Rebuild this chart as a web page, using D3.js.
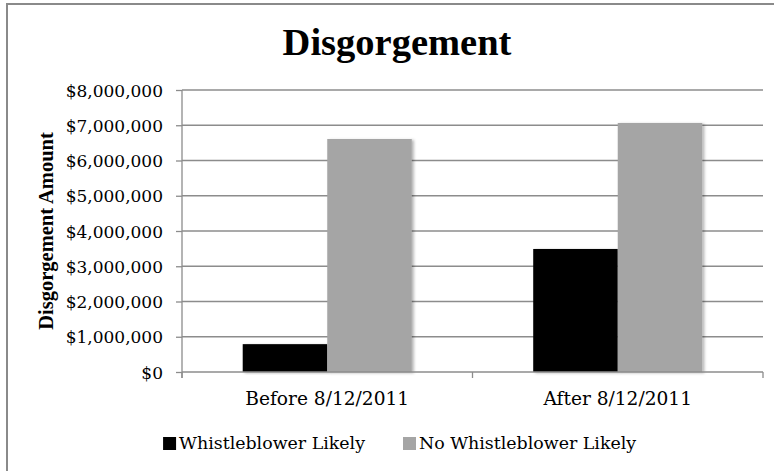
<!DOCTYPE html>
<html>
<head>
<meta charset="utf-8">
<script src="https://cdn.jsdelivr.net/npm/d3@7"></script>
<style>
  html, body { margin: 0; padding: 0; background: #fff; }
  svg { display: block; }
</style>
</head>
<body>
<svg id="chart" width="774" height="471"></svg>
<script>
// Disgorgement amounts by period, split by whistleblower likelihood
const categories = ["Before 8/12/2011", "After 8/12/2011"];
const seriesNames = ["Whistleblower Likely", "No Whistleblower Likely"];
const whistleblowerLikely = [790000, 3490000];
const noWhistleblowerLikely = [6610000, 7065000];
const yTicks = [0, 1000000, 2000000, 3000000, 4000000, 5000000, 6000000, 7000000, 8000000];
const seriesColors = ["#000000", "#a5a5a5"];

const svg = d3.select("#chart");
const serif = "'DejaVu Serif', serif";
const boldSerif = "'Liberation Serif', 'Times New Roman', serif";
const gridColor = "#8c8c8c";

const plot = { left: 182, right: 763, top: 90, bottom: 372 };

const rows = categories.map((c, i) => ({
  category: c,
  values: [whistleblowerLikely[i], noWhistleblowerLikely[i]]
}));

// Outer frame (left and top edges fall inside the canvas)
svg.append("rect")
  .attr("x", 7).attr("y", 4)
  .attr("width", 800).attr("height", 500)
  .attr("fill", "none").attr("stroke", "#8a8a8a").attr("stroke-width", 2);

// Scales
const y = d3.scaleLinear().domain([0, 8000000]).range([plot.bottom, plot.top]);
const x0 = d3.scaleBand().domain(categories)
  .range([plot.left, plot.right])
  .paddingInner(0.418).paddingOuter(0.209);
const x1 = d3.scaleBand().domain(d3.range(seriesNames.length))
  .range([0, x0.bandwidth()]);

// Shadow filter for bars
const defs = svg.append("defs");
const f = defs.append("filter").attr("id", "barShadow")
  .attr("x", "-10%").attr("y", "-5%").attr("width", "130%").attr("height", "115%");
f.append("feDropShadow").attr("dx", 2).attr("dy", 1)
  .attr("stdDeviation", 1.4).attr("flood-color", "#000").attr("flood-opacity", 0.3);

// Gridlines
svg.append("g").selectAll("line")
  .data(yTicks.filter(t => t > 0))
  .join("line")
  .attr("x1", plot.left).attr("x2", plot.right)
  .attr("y1", d => y(d)).attr("y2", d => y(d))
  .attr("stroke", gridColor).attr("stroke-width", 1.3);

// Y axis ticks and labels
const yAxis = svg.append("g")
  .attr("transform", `translate(${plot.left},0)`)
  .call(d3.axisLeft(y).tickValues(yTicks).tickFormat(d3.format("$,.0f"))
    .tickSize(6).tickSizeOuter(0).tickPadding(13));
yAxis.select(".domain").remove();
yAxis.selectAll(".tick line").attr("stroke", gridColor).attr("stroke-width", 1.3);
yAxis.selectAll(".tick text")
  .attr("font-family", serif).attr("font-size", 17).attr("fill", "#000")
  .attr("dy", "0.36em");

// Bars
const groups = svg.append("g").selectAll("g")
  .data(rows)
  .join("g")
  .attr("transform", d => `translate(${x0(d.category)},0)`);
groups.selectAll("rect")
  .data(d => d.values.map((v, i) => ({ v, i })))
  .join("rect")
  .attr("x", d => x1(d.i))
  .attr("width", x1.bandwidth())
  .attr("y", d => y(d.v))
  .attr("height", d => y(0) - y(d.v))
  .attr("fill", d => seriesColors[d.i])
  .attr("filter", "url(#barShadow)");

// Axis lines
svg.append("line")
  .attr("x1", plot.left).attr("x2", plot.left)
  .attr("y1", plot.top).attr("y2", plot.bottom + 6)
  .attr("stroke", gridColor).attr("stroke-width", 1.3);
svg.append("line")
  .attr("x1", plot.left).attr("x2", plot.right)
  .attr("y1", plot.bottom).attr("y2", plot.bottom)
  .attr("stroke", gridColor).attr("stroke-width", 1.5);

// Category boundary ticks on the x axis
const boundaries = d3.range(categories.length + 1).map(i => x0.range()[0] + i * x0.step());
svg.append("g").selectAll("line")
  .data(boundaries)
  .join("line")
  .attr("x1", d => d).attr("x2", d => d)
  .attr("y1", plot.bottom).attr("y2", plot.bottom + 6)
  .attr("stroke", gridColor).attr("stroke-width", 1.3);

// Category labels
svg.append("g").selectAll("text")
  .data(categories)
  .join("text")
  .attr("x", d => x0(d) + x0.bandwidth() / 2)
  .attr("y", 405)
  .attr("text-anchor", "middle")
  .attr("font-family", serif).attr("font-size", 18.6)
  .attr("fill", "#000")
  .text(d => d);

// Title
svg.append("text")
  .attr("x", 397).attr("y", 55)
  .attr("text-anchor", "middle")
  .attr("font-family", boldSerif).attr("font-weight", "bold").attr("font-size", 38.5)
  .attr("fill", "#000")
  .text("Disgorgement");

// Y axis title
svg.append("text")
  .attr("transform", "translate(53,231) rotate(-90)")
  .attr("text-anchor", "middle")
  .attr("font-family", boldSerif).attr("font-weight", "bold").attr("font-size", 20.5)
  .attr("fill", "#000")
  .text("Disgorgement Amount");

// Legend
const legend = svg.append("g");
const legendY = 449;
const item2 = legend.append("g");
item2.append("rect").attr("x", 403).attr("y", legendY - 12).attr("width", 13).attr("height", 13)
  .attr("fill", seriesColors[1]);
item2.append("text").attr("x", 419).attr("y", legendY)
  .attr("font-family", serif).attr("font-size", 17.4).attr("fill", "#000")
  .text(seriesNames[1]);
const item1 = legend.append("g");
const t1 = item1.append("text").attr("x", 365).attr("y", legendY)
  .attr("text-anchor", "end")
  .attr("font-family", serif).attr("font-size", 17.4).attr("fill", "#000")
  .text(seriesNames[0]);
const t1Start = 365 - t1.node().getComputedTextLength();
item1.append("rect").attr("x", t1Start - 16).attr("y", legendY - 12).attr("width", 13).attr("height", 13)
  .attr("fill", seriesColors[0]);
</script>
</body>
</html>
